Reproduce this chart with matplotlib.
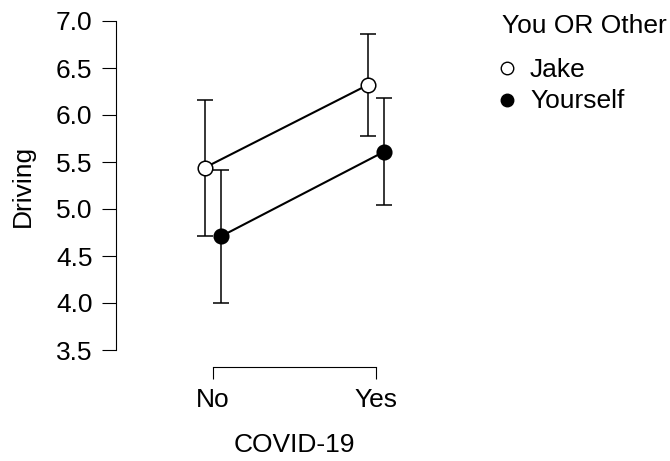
import matplotlib.pyplot as plt
from matplotlib.lines import Line2D
import numpy as np

plt.rcParams['font.family'] = ['Liberation Sans', 'DejaVu Sans']

categories = ['No', 'Yes']
groups = ['Jake', 'Yourself']
means = {
    'Jake': [5.44, 6.32],
    'Yourself': [4.71, 5.61],
}
lower = {
    'Jake': [4.71, 5.78],
    'Yourself': [4.00, 5.04],
}
upper = {
    'Jake': [6.16, 6.86],
    'Yourself': [5.42, 6.18],
}
y_ticks = [3.5, 4.0, 4.5, 5.0, 5.5, 6.0, 6.5, 7.0]

W, H = 670, 461
fig = plt.figure(figsize=(W / 100, H / 100), dpi=100)
ax = fig.add_axes([116 / W, 1 - 350 / H, 304 / W, 329 / H])

x = np.arange(len(categories))
offsets = {'Jake': -0.05, 'Yourself': 0.05}
faces = {'Jake': 'white', 'Yourself': 'black'}

for g in groups:
    xs = x + offsets[g]
    m = np.array(means[g])
    err = [m - np.array(lower[g]), np.array(upper[g]) - m]
    ax.errorbar(xs, m, yerr=err, fmt='none', ecolor='black', elinewidth=1.1,
                capsize=5.5, capthick=1.1, zorder=2)
    ax.plot(xs, m, color='black', lw=1.5, marker='o', markersize=10.5,
            markerfacecolor=faces[g], markeredgecolor='black', markeredgewidth=1.1,
            label=g, zorder=3)

ax.set_xlim(-0.595, (420 - 213) / 163)
ax.set_ylim(3.5, 7.0)
ax.set_yticks(y_ticks)
ax.set_yticklabels([f'{v:.1f}' for v in y_ticks])
ax.set_xticks(x)
ax.set_xticklabels(categories)

for side in ['top', 'right']:
    ax.spines[side].set_visible(False)
ax.spines['left'].set_linewidth(0.8)
ax.spines['bottom'].set_position(('outward', 12.2))
ax.spines['bottom'].set_bounds(0, 1)
ax.spines['bottom'].set_linewidth(0.8)
ax.tick_params(axis='y', length=10, width=0.8, labelsize=19, pad=7)
ax.tick_params(axis='x', length=8.6, width=0.8, labelsize=19, pad=6.5)
ax.patch.set_visible(False)

ax.set_ylabel('Driving', fontsize=19)
ax.yaxis.set_label_coords((35 - 116) / 304, 0.5)
ax.set_xlabel('COVID-19', fontsize=19)
ax.xaxis.set_label_coords((294 - 116) / 304, -0.251)

# legend drawn by hand to match the layout
fig.text(502 / W, 1 - 33 / H, 'You OR Other', fontsize=19, va='baseline', ha='left')
legend_rows = [(68, 77), (100, 108)]
for g, (my, by) in zip(groups, legend_rows):
    fig.add_artist(Line2D([507 / W], [1 - my / H], transform=fig.transFigure,
                          marker='o', markersize=9, markerfacecolor=faces[g],
                          markeredgecolor='black', markeredgewidth=1.0, linestyle='none'))
    fig.text(530 / W, 1 - by / H, g, fontsize=19, va='baseline', ha='left')

fig.savefig('out.png', dpi=100)
